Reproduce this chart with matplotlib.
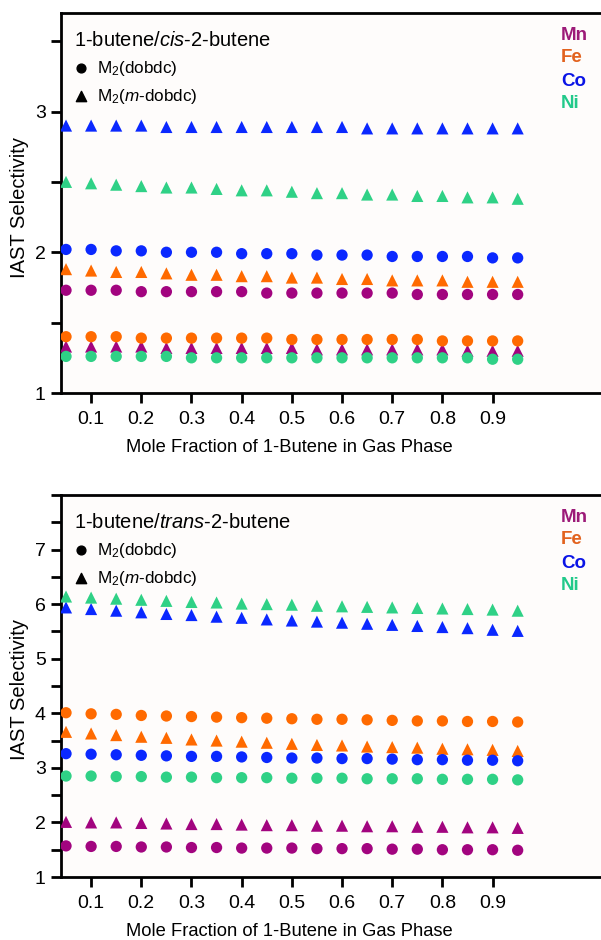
import numpy as np
import matplotlib.pyplot as plt
from matplotlib.ticker import MultipleLocator

plt.rcParams['font.family'] = ['Liberation Sans', 'DejaVu Sans']
plt.rcParams['mathtext.fontset'] = 'custom'
plt.rcParams['mathtext.rm'] = 'Liberation Sans'
plt.rcParams['mathtext.it'] = 'Liberation Sans:italic'

x = [0.05, 0.10, 0.15, 0.20, 0.25, 0.30, 0.35, 0.40, 0.45, 0.50,
     0.55, 0.60, 0.65, 0.70, 0.75, 0.80, 0.85, 0.90, 0.95]

metals = ['Mn', 'Fe', 'Co', 'Ni']
colors = {'Mn': '#A2047F', 'Fe': '#FF6A00', 'Co': '#0A28FF', 'Ni': '#2FD186'}
text_colors = {'Mn': '#9C1A78', 'Fe': '#E2621E', 'Co': '#0A14E6', 'Ni': '#22C98A'}

# 1-butene / cis-2-butene
cis_dobdc = {
    'Mn': [1.73, 1.73, 1.73, 1.72, 1.72, 1.72, 1.72, 1.72, 1.71, 1.71,
           1.71, 1.71, 1.71, 1.71, 1.70, 1.70, 1.70, 1.70, 1.70],
    'Fe': [1.40, 1.40, 1.40, 1.39, 1.39, 1.39, 1.39, 1.39, 1.39, 1.38,
           1.38, 1.38, 1.38, 1.38, 1.38, 1.37, 1.37, 1.37, 1.37],
    'Co': [2.02, 2.02, 2.01, 2.01, 2.00, 2.00, 2.00, 1.99, 1.99, 1.99,
           1.98, 1.98, 1.98, 1.97, 1.97, 1.97, 1.97, 1.96, 1.96],
    'Ni': [1.26, 1.26, 1.26, 1.26, 1.26, 1.25, 1.25, 1.25, 1.25, 1.25,
           1.25, 1.25, 1.25, 1.25, 1.25, 1.25, 1.25, 1.24, 1.24],
}
cis_mdobdc = {
    'Mn': [1.33, 1.33, 1.33, 1.33, 1.32, 1.32, 1.32, 1.32, 1.32, 1.32,
           1.31, 1.31, 1.31, 1.31, 1.31, 1.31, 1.30, 1.30, 1.30],
    'Fe': [1.88, 1.87, 1.86, 1.86, 1.85, 1.84, 1.84, 1.83, 1.83, 1.82,
           1.82, 1.81, 1.81, 1.80, 1.80, 1.80, 1.79, 1.79, 1.79],
    'Co': [2.90, 2.90, 2.90, 2.90, 2.89, 2.89, 2.89, 2.89, 2.89, 2.89,
           2.89, 2.89, 2.88, 2.88, 2.88, 2.88, 2.88, 2.88, 2.88],
    'Ni': [2.50, 2.49, 2.48, 2.47, 2.46, 2.46, 2.45, 2.44, 2.44, 2.43,
           2.42, 2.42, 2.41, 2.41, 2.40, 2.40, 2.39, 2.39, 2.38],
}

# 1-butene / trans-2-butene
trans_dobdc = {
    'Mn': [1.57, 1.56, 1.56, 1.55, 1.55, 1.54, 1.54, 1.53, 1.53, 1.53,
           1.52, 1.52, 1.52, 1.51, 1.51, 1.50, 1.50, 1.50, 1.49],
    'Fe': [4.01, 3.99, 3.98, 3.96, 3.95, 3.94, 3.93, 3.92, 3.91, 3.90,
           3.89, 3.89, 3.88, 3.87, 3.86, 3.86, 3.85, 3.85, 3.84],
    'Co': [3.26, 3.25, 3.24, 3.23, 3.22, 3.21, 3.21, 3.20, 3.19, 3.18,
           3.18, 3.17, 3.17, 3.16, 3.15, 3.15, 3.14, 3.14, 3.13],
    'Ni': [2.85, 2.85, 2.84, 2.84, 2.83, 2.83, 2.82, 2.82, 2.82, 2.81,
           2.81, 2.81, 2.80, 2.80, 2.80, 2.79, 2.79, 2.79, 2.78],
}
trans_mdobdc = {
    'Mn': [2.01, 2.00, 2.00, 1.99, 1.98, 1.97, 1.97, 1.96, 1.95, 1.95,
           1.94, 1.94, 1.93, 1.93, 1.92, 1.92, 1.91, 1.91, 1.90],
    'Fe': [3.66, 3.63, 3.60, 3.57, 3.55, 3.52, 3.50, 3.48, 3.46, 3.44,
           3.42, 3.41, 3.39, 3.38, 3.37, 3.35, 3.34, 3.33, 3.31],
    'Co': [5.94, 5.91, 5.88, 5.85, 5.82, 5.80, 5.77, 5.75, 5.72, 5.70,
           5.68, 5.66, 5.64, 5.62, 5.60, 5.58, 5.56, 5.53, 5.51],
    'Ni': [6.14, 6.12, 6.10, 6.08, 6.06, 6.04, 6.03, 6.01, 6.00, 5.99,
           5.97, 5.96, 5.95, 5.94, 5.93, 5.92, 5.91, 5.90, 5.88],
}

panels = [
    (cis_dobdc, cis_mdobdc, 3.7, [1, 2, 3], 'cis'),
    (trans_dobdc, trans_mdobdc, 8.0, [1, 2, 3, 4, 5, 6, 7], 'trans'),
]

W, H = 601, 940
bg = '#fefcfb'
fig = plt.figure(figsize=(W / 100, H / 100), dpi=100, facecolor='white')

# axes boxes in pixels: (top, bottom)
boxes = [(13, 393), (495, 877)]
left_px = 61

for (circ, tri, ytop, yticks, isomer), (top, bot) in zip(panels, boxes):
    ax = fig.add_axes([left_px / W, 1 - bot / H, 1 - left_px / W + 0.02, (bot - top) / H])
    ax.set_facecolor(bg)
    for m in metals:
        ax.scatter(x, circ[m], marker='o', s=66, color=colors[m], edgecolors='none', zorder=3)
        ax.scatter(x, tri[m], marker='^', s=76, color=colors[m], edgecolors='none', zorder=3)
    ax.set_xlim(0.04, 1.14)
    ax.set_ylim(1, ytop)
    ax.set_xticks([0.1, 0.2, 0.3, 0.4, 0.5, 0.6, 0.7, 0.8, 0.9])
    ax.set_xticklabels(['0.1', '0.2', '0.3', '0.4', '0.5', '0.6', '0.7', '0.8', '0.9'])
    ax.set_yticks(yticks)
    ax.yaxis.set_minor_locator(MultipleLocator(0.5))
    ax.tick_params(axis='both', which='major', direction='out', length=7, width=2,
                   labelsize=14, pad=4)
    ax.tick_params(axis='x', which='major', pad=6)
    ax.tick_params(axis='y', which='minor', direction='out', length=7, width=2)
    ax.spines['right'].set_visible(False)
    for s in ['left', 'bottom', 'top']:
        ax.spines[s].set_linewidth(2)
    ax.set_xlabel('Mole Fraction of 1-Butene in Gas Phase', fontsize=13.2)
    ax.xaxis.set_label_coords(289 / W, 1 - (bot + 55) / H, transform=fig.transFigure)
    ax.set_ylabel('IAST Selectivity', fontsize=14.5)
    ax.yaxis.set_label_coords(20 / W, 1 - (top + 195) / H, transform=fig.transFigure)
    ax.yaxis.label.set_va('center')
    ax.xaxis.label.set_va('center')

    # header and legend
    ax.text(74 / W, 1 - (top + 28) / H, '1-butene/$\\it{' + isomer + '}$-2-butene',
            transform=fig.transFigure, fontsize=14.5, va='center', ha='left')
    ax.scatter([81 / W], [1 - (top + 55) / H], marker='o', s=40, color='black',
               transform=fig.transFigure, clip_on=False)
    ax.scatter([81 / W], [1 - (top + 83) / H], marker='^', s=55, color='black',
               transform=fig.transFigure, clip_on=False)
    ax.text(97 / W, 1 - (top + 55) / H, 'M$_2$(dobdc)', transform=fig.transFigure,
            fontsize=12.3, va='center', ha='left')
    ax.text(97 / W, 1 - (top + 83) / H, 'M$_2$($\\it{m}$-dobdc)', transform=fig.transFigure,
            fontsize=12.3, va='center', ha='left')
    for i, m in enumerate(metals):
        ax.text(561 / W, 1 - (top + 22 + i * 23) / H, m, transform=fig.transFigure,
                fontsize=13.5, fontweight='bold', color=text_colors[m], va='center', ha='left')

fig.savefig('out.png', dpi=100, facecolor='white')
